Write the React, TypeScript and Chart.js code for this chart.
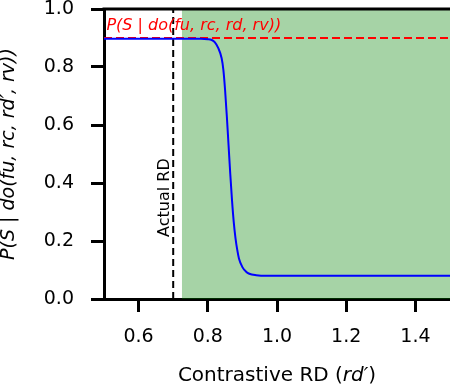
import React, { useEffect, useRef } from "react";
import { Chart, registerables } from "chart.js";

Chart.register(...registerables);

// Contrastive RD values (x) and probability of success (y)
const rdValues = [0.5, 0.6, 0.7, 0.78, 0.8, 0.81, 0.82, 0.83, 0.84, 0.845, 0.85, 0.855, 0.86, 0.865, 0.87, 0.875, 0.88, 0.885, 0.89, 0.9, 0.91, 0.92, 0.94, 0.97, 1.0, 1.2, 1.5];
const probValues = [0.897, 0.897, 0.897, 0.897, 0.896, 0.894, 0.886, 0.866, 0.83, 0.79, 0.72, 0.63, 0.53, 0.43, 0.34, 0.265, 0.21, 0.17, 0.14, 0.11, 0.095, 0.087, 0.082, 0.08, 0.08, 0.08, 0.08];

const xTickValues = [0.6, 0.8, 1.0, 1.2, 1.4];
const yTickValues = [0.0, 0.2, 0.4, 0.6, 0.8, 1.0];
const xRange = [0.5, 1.5];
const yRange = [0, 1];

const actualRd = 0.7;
const shadeRange = [0.725, 1.5];
const baselineProb = 0.9;

const baselineLabel = "P(S | do(fu, rc, rd, rv))";
const actualLabel = "Actual RD";
const yTitle = "P(S | do(fu, rc, rd′, rv))";
const xTitleParts: [string, boolean][] = [["Contrastive RD (", false], ["rd′", true], [")", false]];

const FONT = "'DejaVu Sans', sans-serif";

export default function App() {
  const ref = useRef<HTMLCanvasElement>(null);

  useEffect(() => {
    document.body.style.margin = "0";
    const canvas = ref.current;
    if (!canvas) return;

    const annot = {
      id: "annot",
      afterDraw(chart: any) {
        const { ctx, scales, chartArea } = chart;
        const x = scales.x;
        const y = scales.y;
        ctx.save();
        // top spine
        ctx.strokeStyle = "#000";
        ctx.lineWidth = 3;
        ctx.beginPath();
        ctx.moveTo(chartArea.left - 1.5, chartArea.top);
        ctx.lineTo(chartArea.right + 2, chartArea.top);
        ctx.stroke();

        // red baseline label
        ctx.fillStyle = "red";
        ctx.font = `italic 16px ${FONT}`;
        ctx.textAlign = "left";
        ctx.textBaseline = "alphabetic";
        ctx.fillText(baselineLabel, x.getPixelForValue(0.507), y.getPixelForValue(0.928));

        // Actual RD vertical label
        ctx.save();
        ctx.translate(x.getPixelForValue(0.677), y.getPixelForValue(0.214));
        ctx.rotate(-Math.PI / 2);
        ctx.fillStyle = "#000";
        ctx.font = `16px ${FONT}`;
        ctx.textAlign = "left";
        ctx.textBaseline = "middle";
        ctx.fillText(actualLabel, 0, 0);
        ctx.restore();

        // x title with mixed styles
        ctx.fillStyle = "#000";
        ctx.textBaseline = "middle";
        ctx.textAlign = "left";
        let total = 0;
        const widths = xTitleParts.map(([t, it]) => {
          ctx.font = `${it ? "italic " : ""}20px ${FONT}`;
          const w = ctx.measureText(t).width;
          total += w;
          return w;
        });
        let cx = (chartArea.left + chartArea.right) / 2 - total / 2;
        xTitleParts.forEach(([t, it], i) => {
          ctx.font = `${it ? "italic " : ""}20px ${FONT}`;
          ctx.fillText(t, cx, 376);
          cx += widths[i];
        });
        ctx.restore();
      },
    };

    const chart = new Chart(canvas, {
      type: "line",
      data: {
        datasets: [
          {
            label: "P(S)",
            data: rdValues.map((v, i) => ({ x: v, y: probValues[i] })),
            borderColor: "#0000ff",
            borderWidth: 2,
            pointRadius: 0,
            cubicInterpolationMode: "monotone",
            fill: false,
            order: 0,
          },
          {
            label: "baseline",
            data: [{ x: xRange[0], y: baselineProb }, { x: xRange[1], y: baselineProb }],
            borderColor: "red",
            borderWidth: 2,
            borderDash: [8, 4],
            pointRadius: 0,
            fill: false,
            order: 1,
          },
          {
            label: "actual",
            data: [{ x: actualRd, y: yRange[0] }, { x: actualRd, y: yRange[1] }],
            borderColor: "#000",
            borderWidth: 2,
            borderDash: [7, 4],
            pointRadius: 0,
            fill: false,
            order: 2,
          },
          {
            label: "shade",
            data: [{ x: shadeRange[0], y: yRange[1] }, { x: shadeRange[1], y: yRange[1] }],
            borderWidth: 0,
            borderColor: "rgba(0,0,0,0)",
            backgroundColor: "rgba(0,128,0,0.35)",
            pointRadius: 0,
            fill: "origin",
            order: 3,
          },
        ],
      },
      options: {
        responsive: false,
        animation: false,
        devicePixelRatio: 1,
        layout: { padding: { top: 9, right: 0, left: 0, bottom: 0 } },
        plugins: { legend: { display: false }, tooltip: { enabled: false } },
        scales: {
          x: {
            type: "linear",
            min: xRange[0],
            max: xRange[1],
            z: 1,
            afterFit(scale: any) {
              scale.height = 91;
              scale.paddingLeft = 0;
              scale.paddingRight = 0;
            },
            afterBuildTicks(scale: any) {
              scale.ticks = xTickValues.map((v) => ({ value: v }));
            },
            ticks: {
              color: "#000",
              font: { family: FONT, size: 19 },
              padding: 14,
              maxRotation: 0,
              autoSkip: false,
              callback: (v: any) => Number(v).toFixed(1),
            },
            grid: {
              drawOnChartArea: false,
              drawTicks: true,
              tickLength: 13,
              tickWidth: 3,
              tickColor: "#000",
            },
            border: { display: true, color: "#000", width: 3 },
            title: { display: false },
          },
          y: {
            type: "linear",
            min: yRange[0],
            max: yRange[1],
            z: 1,
            afterFit(scale: any) {
              scale.width = 104;
              scale.paddingTop = 0;
              scale.paddingBottom = 0;
            },
            afterBuildTicks(scale: any) {
              scale.ticks = yTickValues.map((v) => ({ value: v }));
            },
            ticks: {
              color: "#000",
              font: { family: FONT, size: 19 },
              padding: 17,
              autoSkip: false,
              callback: (v: any) => Number(v).toFixed(1),
            },
            grid: {
              drawOnChartArea: false,
              drawTicks: true,
              tickLength: 13,
              tickWidth: 3,
              tickColor: "#000",
            },
            border: { display: true, color: "#000", width: 3 },
            title: {
              display: true,
              text: yTitle,
              color: "#000",
              font: { family: FONT, size: 19, style: "italic", lineHeight: 1 },
              padding: 0,
            },
          },
        },
      },
      plugins: [annot],
    } as any);

    return () => chart.destroy();
  }, []);

  return <canvas ref={ref} width={450} height={390} style={{ display: "block", width: 450, height: 390 }} />;
}
